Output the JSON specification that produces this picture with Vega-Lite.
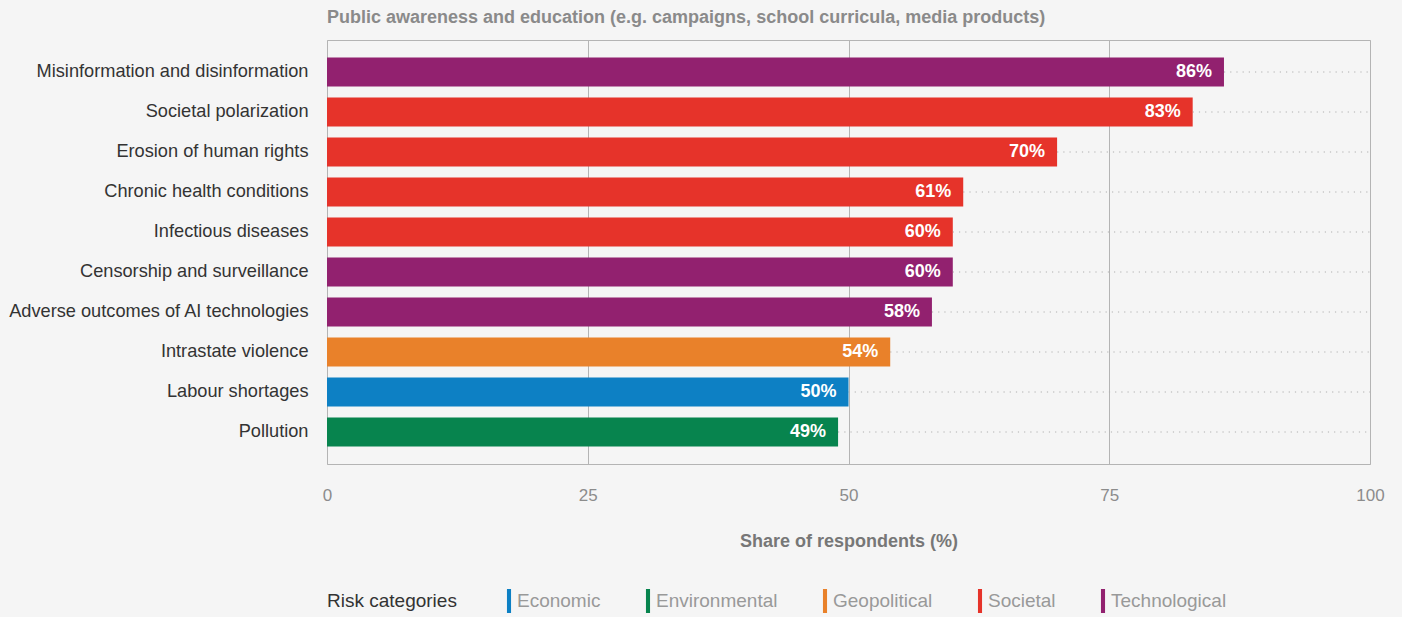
{
  "$schema": "https://vega.github.io/schema/vega-lite/v6.json",
  "autosize": "none",
  "padding": {"left": 327, "top": 40, "right": 32, "bottom": 153},
  "width": 1043,
  "height": 424,
  "background": "#f5f5f5",
  "title": {
    "text": "Public awareness and education (e.g. campaigns, school curricula, media products)",
    "anchor": "start",
    "frame": "group",
    "offset": 13,
    "font": "Liberation Sans",
    "fontSize": 18,
    "fontWeight": "bold",
    "color": "#8a8a8a"
  },
  "config": {
    "view": {"stroke": "#b4b4b4", "strokeWidth": 1},
    "font": "Liberation Sans"
  },
  "data": {
    "values": [
      {"risk": "Misinformation and disinformation", "category": "Technological", "value": 86},
      {"risk": "Societal polarization", "category": "Societal", "value": 83},
      {"risk": "Erosion of human rights", "category": "Societal", "value": 70},
      {"risk": "Chronic health conditions", "category": "Societal", "value": 61},
      {"risk": "Infectious diseases", "category": "Societal", "value": 60},
      {"risk": "Censorship and surveillance", "category": "Technological", "value": 60},
      {"risk": "Adverse outcomes of AI technologies", "category": "Technological", "value": 58},
      {"risk": "Intrastate violence", "category": "Geopolitical", "value": 54},
      {"risk": "Labour shortages", "category": "Economic", "value": 50},
      {"risk": "Pollution", "category": "Environmental", "value": 49}
    ]
  },
  "encoding": {
    "y": {
      "field": "risk",
      "type": "nominal",
      "sort": ["Misinformation and disinformation", "Societal polarization", "Erosion of human rights", "Chronic health conditions", "Infectious diseases", "Censorship and surveillance", "Adverse outcomes of AI technologies", "Intrastate violence", "Labour shortages", "Pollution"],
      "scale": {"paddingInner": 0.28, "paddingOuter": 0.44},
      "axis": {
        "title": null,
        "domain": false,
        "ticks": false,
        "grid": false,
        "labelPadding": 19,
        "labelFont": "Liberation Sans",
        "labelFontSize": 18.2,
        "labelColor": "#333333",
        "labelLimit": 400
      }
    }
  },
  "layer": [
    {
      "mark": {"type": "rule", "color": "#b0b0b0", "strokeWidth": 1.2, "strokeDash": [1.2, 5]},
      "encoding": {
        "x": {"field": "value", "type": "quantitative"},
        "x2": {"datum": 100}
      }
    },
    {
      "mark": {"type": "bar"},
      "encoding": {
        "x": {
          "field": "value",
          "type": "quantitative",
          "scale": {"domain": [0, 100], "nice": false},
          "axis": {
            "title": "Share of respondents (%)",
            "values": [0, 25, 50, 75, 100],
            "grid": true,
            "gridColor": "#b4b4b4",
            "gridWidth": 1,
            "domain": false,
            "ticks": false,
            "labelFlush": false,
            "labelPadding": 23,
            "labelFont": "Liberation Sans",
            "labelFontSize": 17,
            "labelColor": "#8c8c8c",
            "titleFont": "Liberation Sans",
            "titleFontSize": 18,
            "titleFontWeight": "bold",
            "titleColor": "#777777",
            "titlePadding": 29
          }
        },
        "color": {
          "field": "category",
          "type": "nominal",
          "scale": {
            "domain": ["Economic", "Environmental", "Geopolitical", "Societal", "Technological"],
            "range": ["#0d80c4", "#07844e", "#e9812a", "#e6332a", "#92216f"]
          },
          "legend": {
            "title": "Risk categories",
            "orient": "none",
            "legendX": 0,
            "legendY": 549,
            "direction": "horizontal",
            "titleOrient": "left",
            "titleFont": "Liberation Sans",
            "titleFontSize": 19,
            "titleFontWeight": "normal",
            "titleColor": "#333333",
            "titlePadding": 40,
            "titleBaseline": "middle",
            "symbolType": "M-0.17,-1H0.17V1H-0.17Z",
            "symbolSize": 576,
            "symbolStrokeWidth": 0,
            "symbolOpacity": 1,
            "labelFont": "Liberation Sans",
            "labelFontSize": 19,
            "labelColor": "#999999",
            "labelOffset": -4,
            "columnPadding": 35
          }
        }
      }
    },
    {
      "transform": [{"calculate": "datum.value + '%'", "as": "label"}],
      "mark": {"type": "text", "align": "right", "baseline": "middle", "dx": -12, "color": "white", "fontWeight": "bold", "fontSize": 18, "font": "Liberation Sans"},
      "encoding": {
        "x": {"field": "value", "type": "quantitative"},
        "text": {"field": "label", "type": "nominal"}
      }
    }
  ]
}
